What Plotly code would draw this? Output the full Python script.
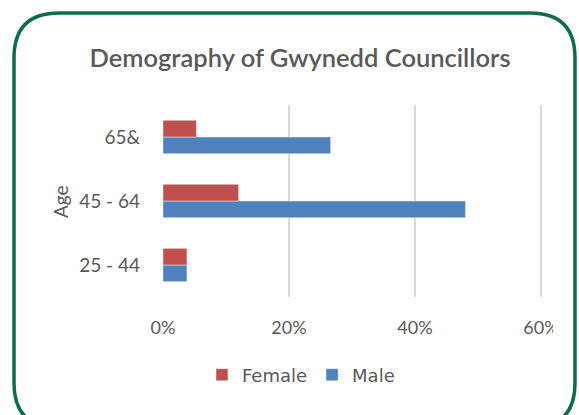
import plotly.graph_objects as go

# data
age_groups = ['25 - 44', '45 - 64', '65&']
female = [0.038, 0.120, 0.053]
male = [0.038, 0.480, 0.266]
x_ticks = [0, 0.2, 0.4, 0.6]
x_tick_labels = ['0%', '20%', '40%', '60%']

W, H = 579, 415
L, R, T, B = 163, 36, 105, 118
pw, ph = W - L - R, H - T - B

def px(x):
    return (x - L) / pw

def py(y):
    return (H - B - y) / ph

font = 'Lato'
grey = '#595959'

fig = go.Figure()
# male first so that female sits on top inside each group
fig.add_trace(go.Bar(y=age_groups, x=male, name='Male', orientation='h',
                     marker_color='#4F81BD', legendrank=2))
fig.add_trace(go.Bar(y=age_groups, x=female, name='Female', orientation='h',
                     marker_color='#C0504D', legendrank=1))

# rounded green frame
l, r, t, b, rad = 14, 575, 13, 428, 45
path = (f'M {px(l)},{py(t + rad)} Q {px(l)},{py(t)} {px(l + rad)},{py(t)} '
        f'L {px(r - rad)},{py(t)} Q {px(r)},{py(t)} {px(r)},{py(t + rad)} '
        f'L {px(r)},{py(b - rad)} Q {px(r)},{py(b)} {px(r - rad)},{py(b)} '
        f'L {px(l + rad)},{py(b)} Q {px(l)},{py(b)} {px(l)},{py(b - rad)} Z')

fig.update_layout(
    width=W, height=H,
    margin=dict(l=L, r=R, t=T, b=B),
    paper_bgcolor='white', plot_bgcolor='white',
    barmode='group', bargap=0.48, bargroupgap=0,
    font=dict(family=font, size=16, color=grey),
    title=dict(text='Demography of Gwynedd Councillors', x=300 / W, xref='container',
               y=1 - 58 / H, yref='container', xanchor='center', yanchor='middle',
               font=dict(size=25.5, color=grey, family=font, weight=600)),
    xaxis=dict(range=[0, 0.6 * pw / (pw - 2)], tickvals=x_ticks, ticktext=x_tick_labels,
               showgrid=True, gridcolor='#D9D9D9', gridwidth=1.5, zeroline=False,
               showline=False, ticks='', ticklabelstandoff=18,
               tickfont=dict(size=18, color=grey)),
    yaxis=dict(showgrid=False, showline=False, ticks='', ticklabelstandoff=22,
               tickfont=dict(size=19, color=grey)),
    legend=dict(orientation='h', x=px(301), y=py(375), xanchor='center', yanchor='middle',
                font=dict(size=18, color=grey, family='DejaVu Sans'),
                itemwidth=30, tracegroupgap=0),
    showlegend=True,
    shapes=[
        dict(type='rect', xref='paper', yref='paper', x0=px(553), x1=px(572),
             y0=py(310), y1=py(342), fillcolor='white', line_width=0, layer='above'),
        dict(type='path', xref='paper', yref='paper', path=path,
             line=dict(color='#0E6B4F', width=3.5)),
    ],
    annotations=[dict(text='Age', x=px(60), y=py(202), xref='paper', yref='paper',
                      xanchor='center', yanchor='middle', showarrow=False,
                      textangle=-90, font=dict(size=19, color=grey))],
)

fig.write_html('out.html', config={'displayModeBar': False},
               post_script="document.body.style.margin='0px';")
